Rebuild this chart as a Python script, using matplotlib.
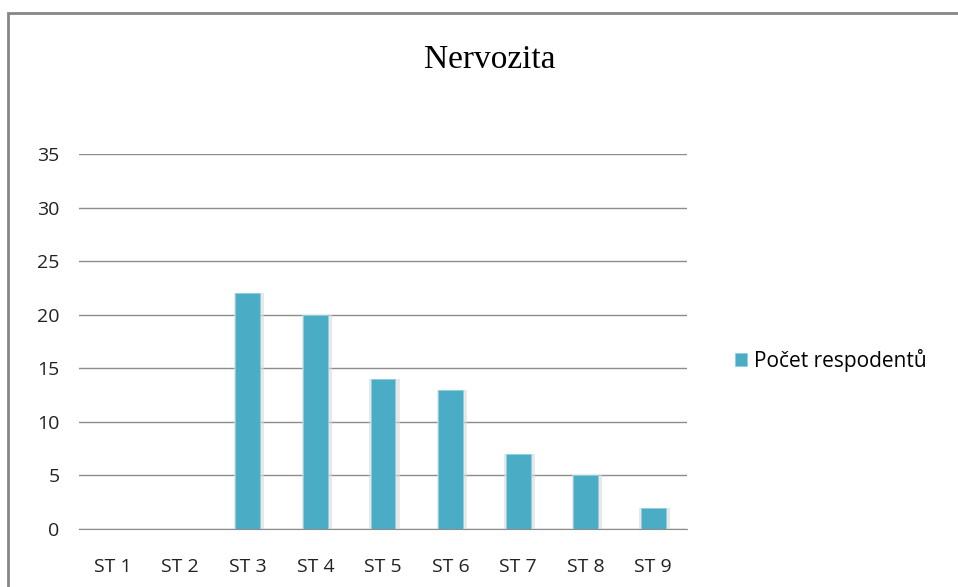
import matplotlib.pyplot as plt
from matplotlib.patches import Rectangle

categories = ['ST 1', 'ST 2', 'ST 3', 'ST 4', 'ST 5', 'ST 6', 'ST 7', 'ST 8', 'ST 9']
values = [0, 0, 22, 20, 14, 13, 7, 5, 2]
y_ticks = [0, 5, 10, 15, 20, 25, 30, 35]

BAR_COLOR = '#4bacc6'
GRID_COLOR = '#8c8c8c'

fig = plt.figure(figsize=(9.58, 5.87), dpi=100)
fig.patch.set_facecolor('white')

# outer chart frame
fig.add_artist(Rectangle((8 / 958, -0.1), 1.2, 0.1 + 1 - 13 / 587,
                         transform=fig.transFigure, fill=False,
                         edgecolor='#868686', lw=2))

ax = fig.add_axes([79 / 958, 1 - 529 / 587, 608 / 958, 375 / 587])
x = range(len(categories))

# soft shadow behind bars
ax.bar([i + 0.02 for i in x], values, width=0.45, color='#d9d9d9',
       alpha=0.6, zorder=2)
ax.bar(x, values, width=0.37, color=BAR_COLOR, edgecolor='#8fd0e0',
       lw=0.6, zorder=3, label='Počet respodentů')

ax.set_xlim(-0.5, len(categories) - 0.5)
ax.set_ylim(0, 35)
ax.set_yticks(y_ticks)
ax.set_xticks(list(x))
ax.set_xticklabels(categories)
ax.yaxis.grid(True, color=GRID_COLOR, lw=1)
ax.set_axisbelow(True)
for side in ['top', 'right', 'left']:
    ax.spines[side].set_visible(False)
ax.spines['bottom'].set_color(GRID_COLOR)
ax.tick_params(length=0, labelsize=14, labelcolor='#222222')
ax.tick_params(axis='x', pad=21)
ax.tick_params(axis='y', pad=14)
for lbl in ax.get_xticklabels() + ax.get_yticklabels():
    lbl.set_fontfamily('Open Sans')

fig.text(490 / 958, 1 - 60 / 587, 'Nervozita', ha='center', va='center',
         fontsize=24, family='Liberation Serif', fontweight='light')

ax.legend(loc='center left', bbox_to_anchor=(716 / 958, 1 - 360 / 587),
          bbox_transform=fig.transFigure, frameon=False, handlelength=0.6,
          handleheight=0.6, handletextpad=0.3,
          prop={'family': 'Open Sans', 'size': 15})

fig.savefig('out.png', dpi=100)
